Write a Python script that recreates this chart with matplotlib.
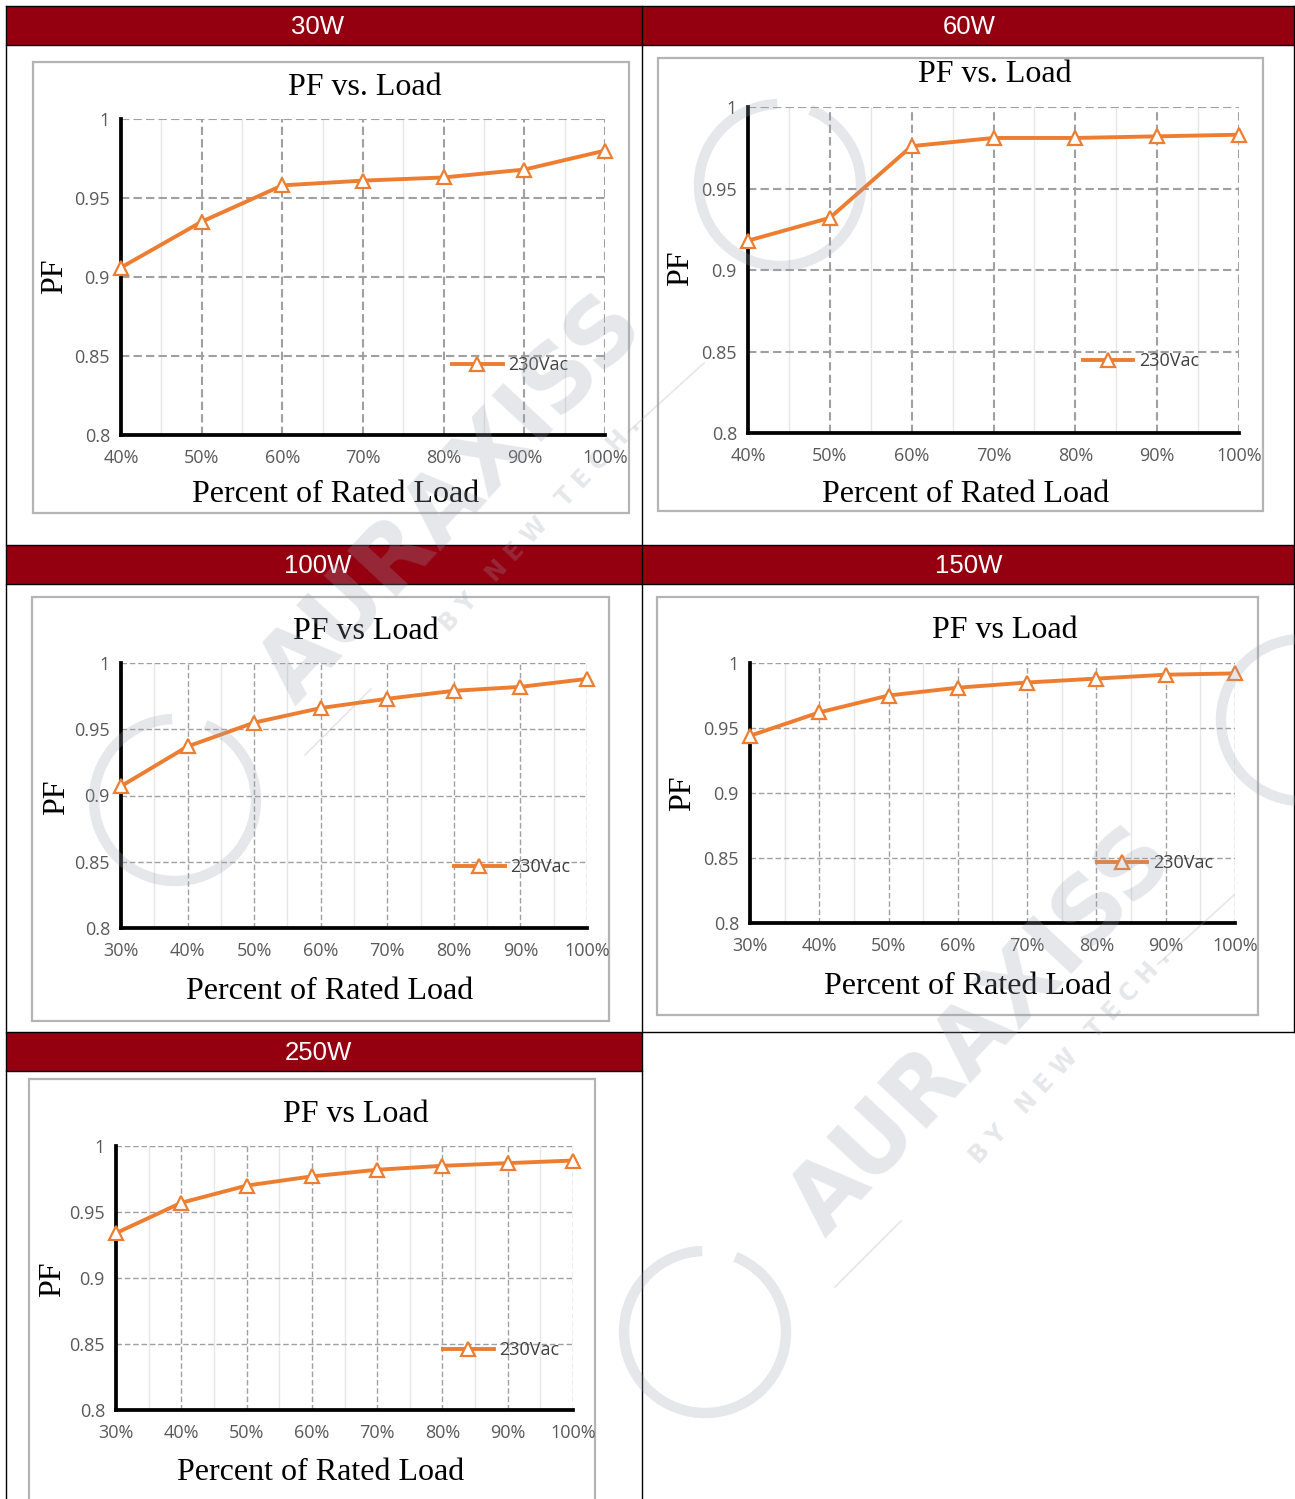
import matplotlib
matplotlib.use("Agg")
import numpy as np
import matplotlib.pyplot as plt
from matplotlib.patches import Rectangle, Arc

W, H = 1295, 1499

# values
headers = ["30W", "60W", "100W", "150W", "250W"]
titles = ["PF vs. Load", "PF vs. Load", "PF vs Load", "PF vs Load", "PF vs Load"]
load_from_40 = ["40%", "50%", "60%", "70%", "80%", "90%", "100%"]
load_from_30 = ["30%", "40%", "50%", "60%", "70%", "80%", "90%", "100%"]
pf_30w = [0.906, 0.935, 0.958, 0.961, 0.963, 0.968, 0.980]
pf_60w = [0.918, 0.932, 0.976, 0.981, 0.981, 0.982, 0.983]
pf_100w = [0.907, 0.937, 0.955, 0.966, 0.973, 0.979, 0.982, 0.988]
pf_150w = [0.944, 0.962, 0.975, 0.981, 0.985, 0.988, 0.991, 0.992]
pf_250w = [0.934, 0.957, 0.970, 0.977, 0.982, 0.985, 0.987, 0.989]
y_ticks = [0.8, 0.85, 0.9, 0.95, 1.0]
y_ticklabels = ["0.8", "0.85", "0.9", "0.95", "1"]
series_name = "230Vac"

loads = [load_from_40, load_from_40, load_from_30, load_from_30, load_from_30]
pfs = [pf_30w, pf_60w, pf_100w, pf_150w, pf_250w]

# layout in pixels: chart box, plot area, title / xlabel / ylabel centres, legend anchor
panels = [
    dict(box=(33, 62, 629, 513), ax=(121, 119, 605, 435), title=(365, 87),
         xl=(336, 494), yl=(55, 276), leg=(0.684, 0.222), glw=1.5),
    dict(box=(658, 58, 1263, 511), ax=(748, 107, 1239, 433), title=(995, 74),
         xl=(966, 494), yl=(681, 268), leg=(0.682, 0.221), glw=1.5),
    dict(box=(32, 597, 609, 1021), ax=(121, 663, 587, 928), title=(366, 631),
         xl=(330, 991), yl=(57, 797), leg=(0.715, 0.230), glw=1.0),
    dict(box=(657, 597, 1258, 1015), ax=(750, 663, 1235, 923), title=(1005, 630),
         xl=(968, 986), yl=(683, 793), leg=(0.715, 0.231), glw=1.0),
    dict(box=(29, 1079, 595, 1510), ax=(116, 1146, 573, 1410), title=(356, 1114),
         xl=(321, 1473), yl=(53, 1279), leg=(0.716, 0.227), glw=1.0),
]
header_cells = [(6, 6, 642, 45), (642, 6, 1294, 45), (6, 545, 642, 584),
                (642, 545, 1294, 584), (6, 1032, 642, 1071)]
header_text_x = [318, 969, 318, 969, 318]
# watermark: ring centres, and which of them carry the full lettering
rings = [(175, 800), (780, 185), (705, 1332), (1302, 720)]
lettered = [(175, 800), (705, 1332)]

RED = "#950010"
ORANGE = "#ED7D31"
SERIF = "Liberation Serif"
SANS = "Open Sans"

fig = plt.figure(figsize=(W / 100, H / 100), dpi=100)
bg = fig.add_axes([0, 0, 1, 1])
bg.set_xlim(0, W)
bg.set_ylim(H, 0)
bg.axis("off")

# table: red header cells and thin black rules
for (x0, y0, x1, y1), name, tx in zip(header_cells, headers, header_text_x):
    bg.add_patch(Rectangle((x0, y0), x1 - x0, y1 - y0, facecolor=RED, edgecolor="none"))
    bg.text(tx, (y0 + y1) / 2 + 1.5, name, color="white", ha="center", va="center",
            fontsize=18.5, family="Liberation Sans")

for x, ya, yb in [(6, 6, H), (642, 6, H), (1294, 6, 1032)]:
    bg.plot([x, x], [ya, yb], color="black", lw=1)
for y, xa, xb in [(6, 6, 1294), (45, 6, 1294), (545, 6, 1294), (584, 6, 1294),
                  (1032, 6, 1294), (1071, 6, 642)]:
    bg.plot([xa, xb], [y, y], color="black", lw=1)

for p, title, xs, ys in zip(panels, titles, loads, pfs):
    bx0, by0, bx1, by1 = p["box"]
    bg.add_patch(Rectangle((bx0, by0), bx1 - bx0, by1 - by0, facecolor="white",
                           edgecolor="#b4b4b4", lw=1.6))
    bg.text(p["title"][0], p["title"][1], title, ha="center", va="center",
            fontsize=23, family=SERIF, color="black")
    bg.text(p["xl"][0], p["xl"][1], "Percent of Rated Load", ha="center", va="center",
            fontsize=23, family=SERIF, color="black")
    bg.text(p["yl"][0], p["yl"][1], "PF", ha="center", va="center", rotation=90,
            fontsize=23, family=SERIF, color="black")

    x0, y0, x1, y1 = p["ax"]
    ax = fig.add_axes([x0 / W, 1 - y1 / H, (x1 - x0) / W, (y1 - y0) / H])
    ax.set_facecolor("none")
    ax.plot(xs, ys, color=ORANGE, lw=2.8, marker="^", ms=10, mfc="white", mec=ORANGE,
            mew=1.6, clip_on=False, zorder=5, label=series_name)
    n = len(xs)
    ax.set_xlim(0, n - 1)
    ax.set_ylim(0.8, 1.0)
    ax.set_yticks(y_ticks)
    ax.set_yticklabels(y_ticklabels)
    ax.set_xticks(np.arange(0.5, n - 1, 1.0), minor=True)
    ax.grid(which="major", axis="both", ls=(0, (4, 2)), color="#a0a0a0", lw=p["glw"])
    ax.grid(which="minor", axis="x", ls="-", color="#e6e6e6", lw=1)
    ax.set_axisbelow(True)
    ax.tick_params(which="both", length=0, labelsize=13, labelcolor="#595959")
    ax.tick_params(axis="y", pad=8)
    ax.tick_params(axis="x", pad=10)
    for lab in ax.get_xticklabels() + ax.get_yticklabels():
        lab.set_family(SANS)
    for side in ["top", "right"]:
        ax.spines[side].set_visible(False)
    for side in ["left", "bottom"]:
        ax.spines[side].set_linewidth(2.7)
        ax.spines[side].set_color("black")
    ax.legend(loc="center left", bbox_to_anchor=p["leg"], frameon=False,
              handlelength=2.8, handletextpad=0.3, borderpad=0, borderaxespad=0,
              prop={"family": SANS, "size": 13}, labelcolor="#404040")

# faint watermark on top of everything
wm = fig.add_axes([0, 0, 1, 1])
wm.set_xlim(0, W)
wm.set_ylim(H, 0)
wm.axis("off")
wm.set_facecolor("none")
WMC = "#9aa0ac"
WMA = 0.25
for cx, cy in rings:
    wm.add_patch(Arc((cx, cy), 162, 162, theta1=-68, theta2=268, lw=7.5,
                     color=WMC, alpha=WMA))
for cx, cy in lettered:
    wm.text(cx + 277, cy - 300, "AURAXISS", rotation=47, ha="center", va="center",
            fontsize=66, fontweight="bold", family="DejaVu Sans", color=WMC, alpha=WMA)
    wm.text(cx + 365, cy - 275, "B Y   N E W   T E C H .", rotation=47, ha="center",
            va="center", fontsize=17, fontweight="bold", family="DejaVu Sans",
            color=WMC, alpha=WMA)
    wm.plot([cx + 130, cx + 196], [cy - 45, cy - 111], color=WMC, lw=1.2, alpha=WMA)
    wm.plot([cx + 453, cx + 529], [cy - 368, cy - 437], color=WMC, lw=1.2, alpha=WMA)

fig.savefig("out.png", dpi=100)
